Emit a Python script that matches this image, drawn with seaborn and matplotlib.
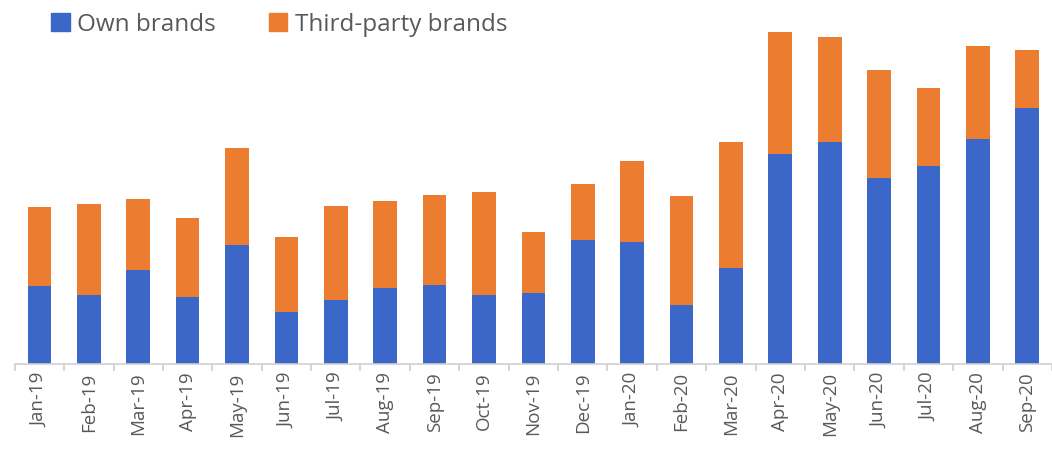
import matplotlib
matplotlib.use("Agg")
import matplotlib.pyplot as plt
import seaborn as sns
import pandas as pd
from matplotlib.patches import Patch

months = ["Jan-19", "Feb-19", "Mar-19", "Apr-19", "May-19", "Jun-19", "Jul-19",
          "Aug-19", "Sep-19", "Oct-19", "Nov-19", "Dec-19", "Jan-20", "Feb-20",
          "Mar-20", "Apr-20", "May-20", "Jun-20", "Jul-20", "Aug-20", "Sep-20"]
own_brands = [78, 69, 94, 67, 119, 52, 64, 76, 79, 69, 71, 124, 122, 59, 96,
              210, 222, 186, 198, 225, 256]
third_party = [79, 91, 71, 79, 97, 75, 94, 87, 90, 103, 61, 56, 81, 109, 126,
               122, 105, 108, 78, 93, 58]

BLUE = "#3b67c9"
ORANGE = "#ec7d30"

df = pd.DataFrame({"month": months, "own": own_brands, "third": third_party})
df["total"] = df["own"] + df["third"]

sns.set_theme(style="white")
plt.rcParams["font.family"] = ["Open Sans", "DejaVu Sans"]

fig = plt.figure(figsize=(10.52, 4.57), dpi=100)
ax = fig.add_axes([0.014, 0.2035, 0.986, 0.775])

# stacked bars: total first (orange), own brands on top (blue)
sns.barplot(data=df, x="month", y="total", color=ORANGE, width=0.48,
            saturation=1, linewidth=0, ax=ax)
sns.barplot(data=df, x="month", y="own", color=BLUE, width=0.48,
            saturation=1, linewidth=0, ax=ax)

ax.set_xlim(-0.5, len(months) - 0.5)
ax.set_ylim(0, 354)
ax.set_xlabel("")
ax.set_ylabel("")
ax.set_yticks([])
for side in ["top", "right", "left"]:
    ax.spines[side].set_visible(False)
ax.spines["bottom"].set_color("#d0d0d0")
ax.spines["bottom"].set_linewidth(1.2)

ax.set_xticks(range(len(months)))
ax.set_xticklabels(months, rotation=90, fontsize=13.5, color="#595959")
ax.tick_params(axis="x", length=0, pad=6)
# small tick marks between categories
ax.set_xticks([i - 0.5 for i in range(len(months) + 1)], minor=True)
ax.tick_params(axis="x", which="minor", length=5, color="#d0d0d0", width=1.2,
               bottom=True)

handles = [Patch(color=BLUE, label="Own brands"),
           Patch(color=ORANGE, label="Third-party brands")]
fig.legend(handles=handles, loc="upper left", bbox_to_anchor=(0.028, 1.02),
           ncol=2, frameon=False, fontsize=17.5, handlelength=0.75,
           handleheight=0.75, handletextpad=0.3, columnspacing=2.2,
           labelcolor="#595959")

fig.savefig("out.png", dpi=100)
